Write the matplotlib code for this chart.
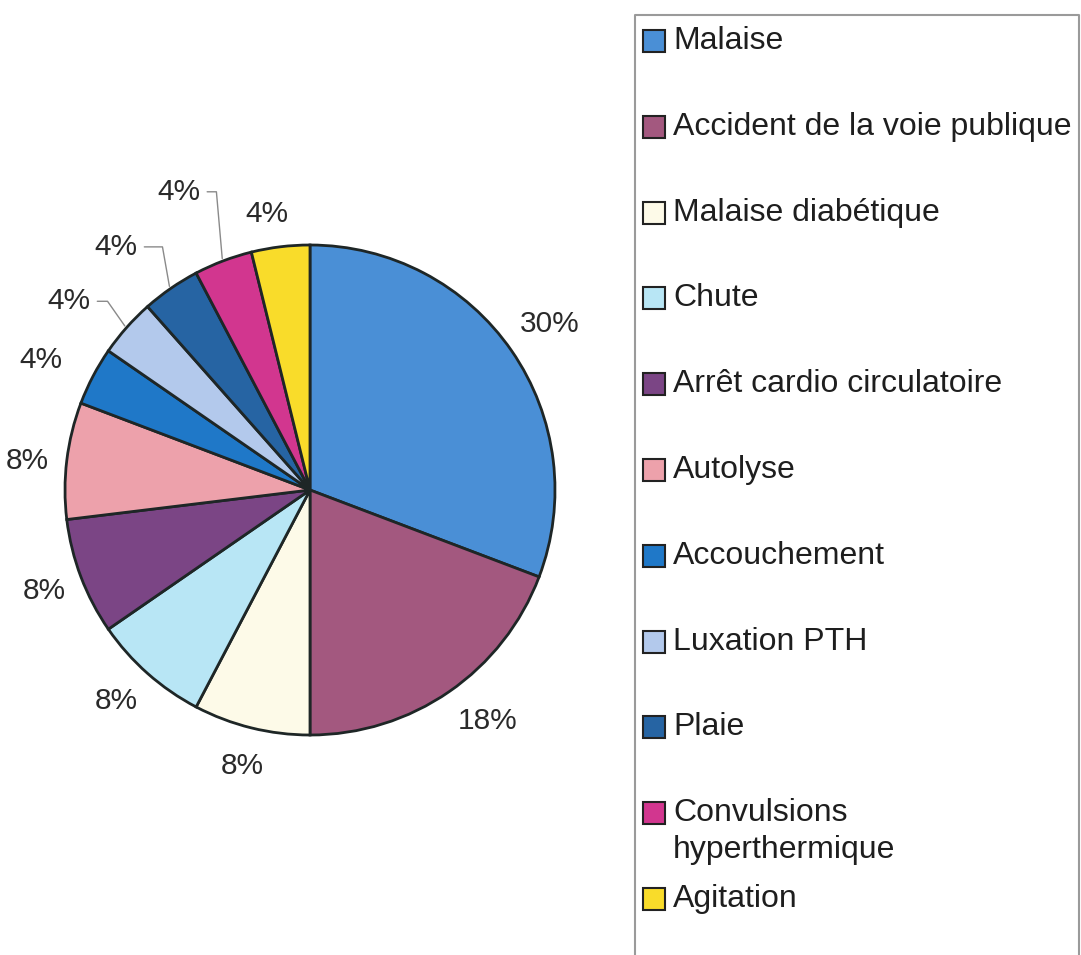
import matplotlib.pyplot as plt
import numpy as np

plt.rcParams['font.family'] = ['Liberation Sans', 'DejaVu Sans']

# data (counts per category) and the printed labels
categories = ['Malaise', 'Accident de la voie publique', 'Malaise diabétique',
              'Chute', 'Arrêt cardio circulatoire', 'Autolyse', 'Accouchement',
              'Luxation PTH', 'Plaie', 'Convulsions\nhyperthermique', 'Agitation']
counts = [8, 5, 2, 2, 2, 2, 1, 1, 1, 1, 1]
pct_labels = ['30%', '18%', '8%', '8%', '8%', '8%', '4%', '4%', '4%', '4%', '4%']
colors = ['#4a8fd6', '#a3587f', '#fdfae8', '#b8e6f5', '#7b4585', '#eda1ab',
          '#1f78c8', '#b3c9ec', '#2664a3', '#d2368f', '#f9dc2a']

# label placement (radius factor, angle shift in degrees, leader line angle)
label_r = [1.19, 1.19, 1.16, 1.17, 1.16, 1.16, 1.22, 1.25, 1.27, 1.33, 1.14]
label_shift = [0, 3, 0, -1, 0, 1, 2, 3.5, 4, 3, 2]
leader = [None, None, None, None, None, None, None, 125, 100, 95, None]

W, H = 1081, 955
fig = plt.figure(figsize=(W / 100, H / 100), dpi=100)
ax = fig.add_axes([0, 0, 1, 1])

cx, cy, R = 310, H - 490, 245
wedges, _ = ax.pie(counts, colors=colors, startangle=90, counterclock=False,
                   center=(cx, cy), radius=R,
                   wedgeprops=dict(edgecolor='#1e2626', linewidth=2))

for w, lab, rf, sh, lb in zip(wedges, pct_labels, label_r, label_shift, leader):
    mid = (w.theta1 + w.theta2) / 2
    ang = np.deg2rad(mid + sh)
    tx, ty = cx + R * rf * np.cos(ang), cy + R * rf * np.sin(ang)
    if lb is None:
        ax.text(tx, ty, lab, ha='center', va='center', fontsize=21.5, color='#2a2a2a')
    else:
        m = np.deg2rad(mid)
        ex, ey = cx + R * 1.01 * np.cos(m), cy + R * 1.01 * np.sin(m)
        ax.annotate(lab, xy=(ex, ey), xytext=(tx, ty), ha='center', va='center',
                    fontsize=21.5, color='#2a2a2a',
                    arrowprops=dict(arrowstyle='-', color='#8a8a8a', lw=1,
                                    shrinkA=3, shrinkB=0,
                                    connectionstyle='angle,angleA=0,angleB=%d,rad=0' % lb))

# legend drawn by hand (Excel style, wrapped entry keeps the same spacing)
ax.plot([635, 635, 1079, 1079], [-10, H - 15, H - 15, -10], color='#9a9a9a', lw=1.5)
y0, step = H - 41, 85.8
for i, (cat, col) in enumerate(zip(categories, colors)):
    y = y0 - i * step
    ax.add_patch(plt.Rectangle((643, y - 11), 22, 22, facecolor=col,
                               edgecolor='#222222', lw=1.5))
    for j, line in enumerate(cat.split('\n')):
        ax.text(673, y - j * 37, line, ha='left', va='center', fontsize=23,
                color='#1e1e1e')

ax.set_xlim(0, W)
ax.set_ylim(0, H)
ax.set_aspect('auto')
ax.axis('off')

fig.savefig('out.png', dpi=100, facecolor='white')
